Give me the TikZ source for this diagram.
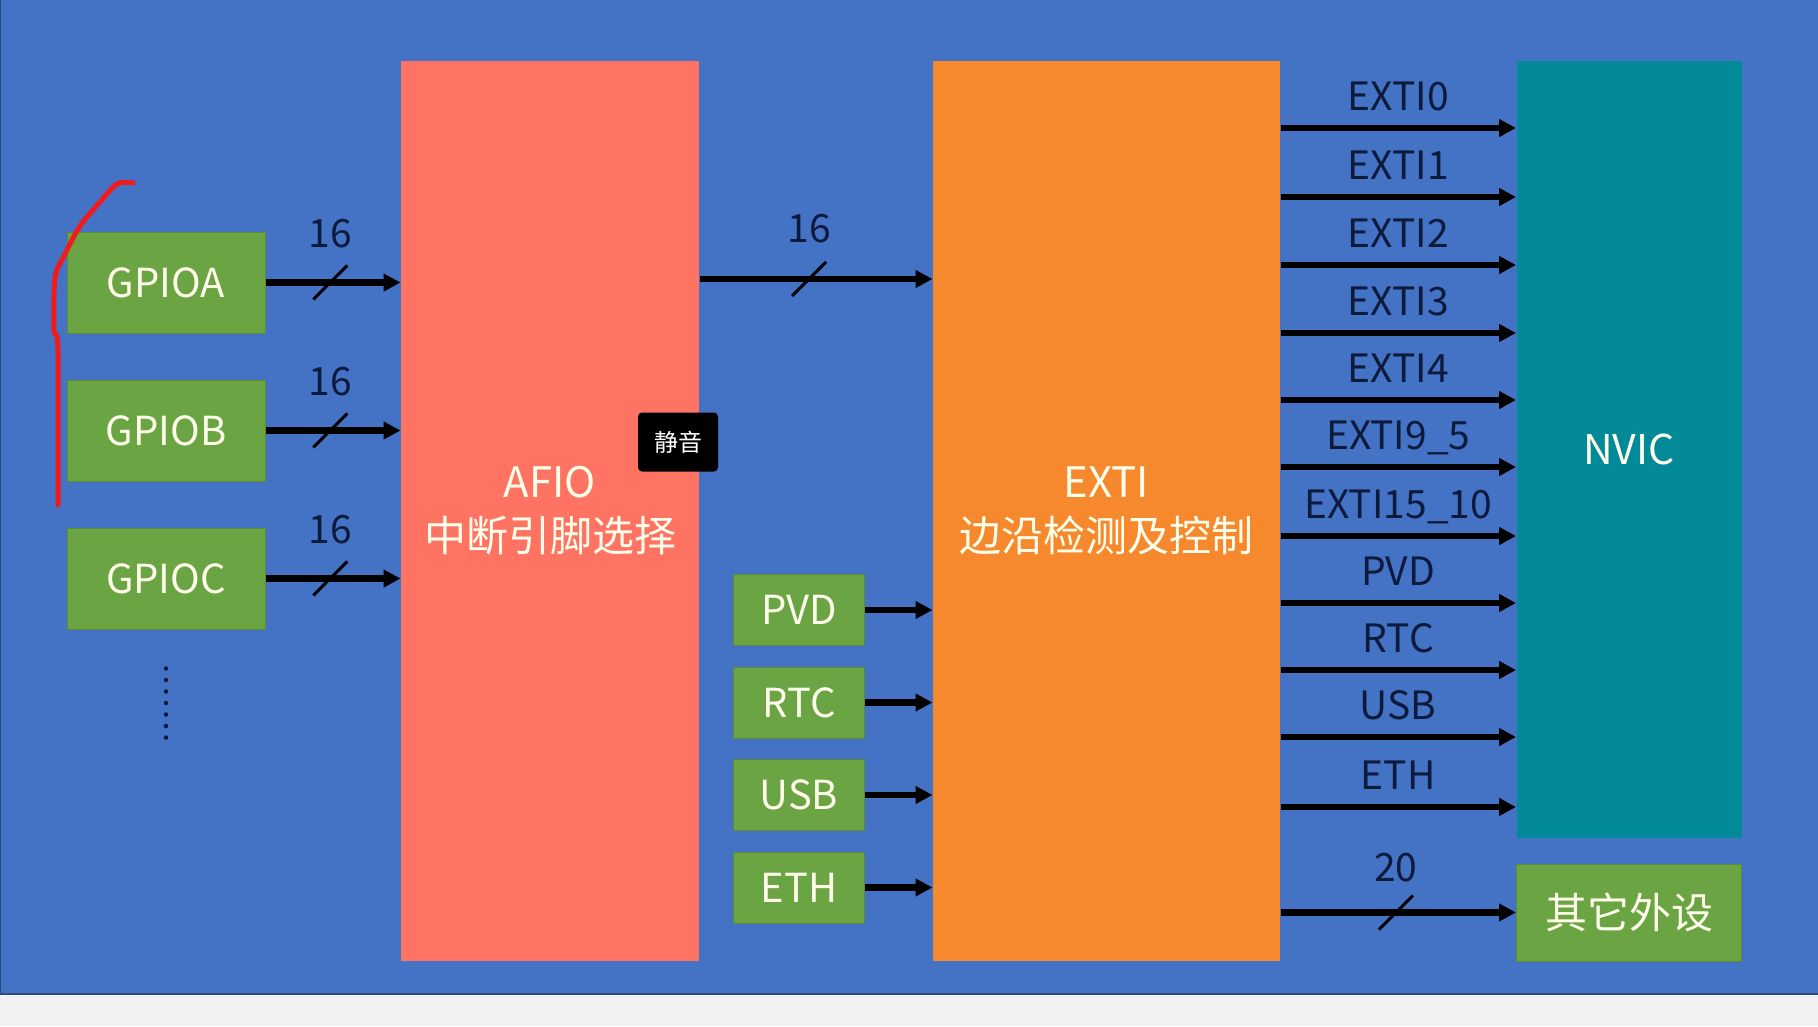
\documentclass[tikz,border=0pt]{standalone}
\usepackage{fontspec}
\setmainfont{Noto Sans CJK SC}
\usepackage{tikz}
\usetikzlibrary{arrows.meta,positioning}
\definecolor{SlideBlue}{HTML}{4472C4}
\definecolor{AfioRed}{HTML}{FF7363}
\definecolor{ExtiOrange}{HTML}{F6892E}
\definecolor{NvicTeal}{HTML}{038A99}
\definecolor{PortGreen}{HTML}{6BA443}
\definecolor{SigNavy}{HTML}{0C1A3C}
\definecolor{BandGrey}{HTML}{F1F1F1}
\definecolor{InkRed}{HTML}{EE1C1C}
\tikzset{box/.style={draw=PortGreen!85!black,line width=1pt,fill=PortGreen,text=white!92!yellow,align=center,inner sep=0pt,font=\fontsize{40}{46}\selectfont}, portbox/.style={box,minimum width=198pt,minimum height=101pt}, srcbox/.style={box,minimum width=131pt,minimum height=71pt}, bigbox/.style={box,draw=none,minimum height=900pt,font=\fontsize{42}{54}\selectfont}, sig/.style={text=SigNavy,inner sep=0pt,font=\fontsize{39}{46}\selectfont}, arrow/.style={-{Triangle[length=17pt,width=17pt]},line width=6.5pt,draw=black}, slash/.style={line width=3pt,draw=black}}
\begin{document}
\begin{tikzpicture}[x=1pt,y=-1pt,node distance=46pt]
\useasboundingbox (0,0) rectangle (1818,1026);
\fill[SlideBlue] (0,0) rectangle (1818,994);
\fill[BandGrey] (0,994) rectangle (1818,1026);
\draw[SlideBlue!65!black,line width=2.5pt] (0,994) -- (1818,994);
\draw[SlideBlue!65!black,line width=2pt] (0,0) -- (0,994);
\node[portbox] (gpioa) at (166,282.5) {GPIOA};
\node[portbox,below=of gpioa] (gpiob) {GPIOB};
\node[portbox,below=of gpiob] (gpioc) {GPIOC};
\node[bigbox,fill=AfioRed,minimum width=298pt] (afio) at (550,511) {AFIO\\中断引脚选择};
\node[bigbox,fill=ExtiOrange,minimum width=347pt] (exti) at (1106.5,511) {EXTI\\边沿检测及控制};
\node[bigbox,fill=NvicTeal,minimum width=225pt,minimum height=777pt,font=\fontsize{41}{46}\selectfont] (nvic) at (1629,449.5) {NVIC};
\node[box,below=25pt of nvic,minimum width=225pt,minimum height=97pt,font=\fontsize{42}{46}\selectfont] (other) {其它外设};
\node[srcbox] (pvd) at (799,610) {PVD};
\node[srcbox,below=20.5pt of pvd] (rtc) {RTC};
\node[srcbox,below=20.5pt of rtc] (usb) {USB};
\node[srcbox,below=20.5pt of usb] (eth) {ETH};
\foreach \src in {gpioa,gpiob,gpioc}{\draw[arrow] (\src.east) -- (\src.east -| afio.west) coordinate[pos=.48] (m\src); \draw[slash] (m\src) ++(-17,17) -- ++(34,-34); \node[sig,anchor=base] (n\src) at ([yshift=35pt]m\src) {16};}
\draw[arrow] (afio.east |- 0,279) -- (exti.west |- 0,279) coordinate[pos=.47] (mbus);
\draw[slash] (mbus) ++(-17,17) -- ++(34,-34);
\node[sig,anchor=base] (nbus) at ([yshift=37pt]mbus) {16};
\foreach \src in {pvd,rtc,usb,eth}{\draw[arrow] (\src.east) -- (\src.east -| exti.west);}
\foreach \y/\lab in {128/EXTI0,197/EXTI1,265/EXTI2,333/EXTI3,400/EXTI4,467/EXTI9\_5,536/EXTI15\_10,603/PVD,670/RTC,737/USB,807/ETH}{\draw[arrow] (exti.east |- 0,\y) -- (nvic.west |- 0,\y) node[sig,midway,anchor=base,yshift=18pt] {\lab};}
\draw[arrow] (exti.east |- other.west) -- (other.west) coordinate[pos=.49] (mext);
\draw[slash] (mext) ++(-17,17) -- ++(34,-34);
\node[sig,anchor=base] (next) at ([yshift=31pt]mext) {20};
\draw[SigNavy,line width=4.5pt,line cap=round,dash pattern=on 0pt off 11.5pt] (gpioc.south) ++(0,39) -- ++(0,69);
\node[fill=black,text=white,rounded corners=4pt,minimum width=80pt,minimum height=59pt,inner sep=0pt,font=\fontsize{24}{28}\selectfont] (mute) at (678,442) {静音};
\draw[InkRed,line width=5pt,line cap=round,line join=round] plot[smooth] coordinates {(133,183) (117,184) (100,202) (80,226) (64,256) (55,278) (54,330) (58,350) (58,505)};
\end{tikzpicture}
\end{document}
